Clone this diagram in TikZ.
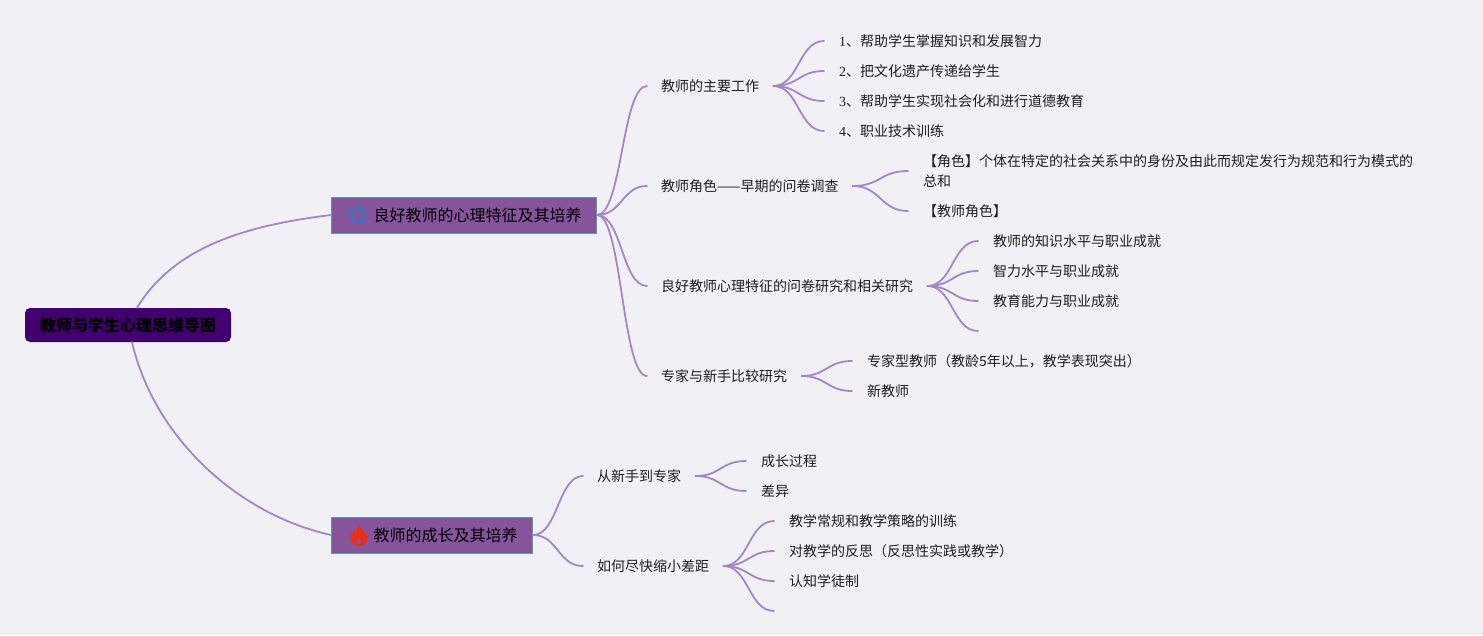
\documentclass[tikz,border=0pt]{standalone}
\usepackage{fontspec}
\setmainfont{Noto Sans CJK SC}
\newfontfamily\digitfont{Liberation Serif}
\usetikzlibrary{shapes.geometric,calc}
\definecolor{paper}{HTML}{F1F0F4}
\definecolor{branchline}{HTML}{A585C6}
\definecolor{rootfill}{HTML}{41006E}
\definecolor{subfill}{HTML}{85549B}
\definecolor{subedge}{HTML}{5F97A5}
\definecolor{starblue}{HTML}{3F72C0}
\definecolor{flamered}{HTML}{F02C12}
\definecolor{inktext}{HTML}{1E1E1E}
\newcommand{\dg}[1]{{\digitfont #1}}
\tikzset{
	branch/.style={draw=branchline, line width=1.8pt, line cap=round},
	forkcurve/.style={to path={.. controls ($(\tikztostart)!0.5!(\tikztotarget |- \tikztostart)$)
		and ($(\tikztotarget)!0.5!(\tikztostart |- \tikztotarget)$) .. (\tikztotarget)}},
	rootnode/.style={fill=rootfill, rounded corners=5pt, minimum width=206pt, minimum height=34pt,
		inner sep=0pt, font=\fontsize{16}{20}\selectfont\bfseries, text=black},
	subnode/.style={fill=subfill, draw=subedge, line width=1pt, anchor=west, minimum height=36pt,
		inner xsep=15pt, inner ysep=0pt, font=\fontsize{16}{20}\selectfont, text=black},
	topicnode/.style={anchor=west, inner xsep=14pt, inner ysep=0pt, text height=12pt, text depth=2pt,
		font=\fontsize{14}{20}\selectfont, text=inktext},
	leafnode/.style={anchor=west, inner xsep=15pt, inner ysep=0pt, text height=12pt, text depth=2pt,
		font=\fontsize{14}{20}\selectfont, text=inktext},
	wrapnode/.style={anchor=west, inner xsep=15pt, inner ysep=0pt, align=left,
		font=\fontsize{14}{20}\selectfont, text=inktext},
	starmark/.style={star, star points=5, star point ratio=2.1, draw=starblue, line width=2.4pt,
		line join=round, minimum size=20pt, inner sep=0pt},
}
\begin{document}
\begin{tikzpicture}[x=1pt, y=-1pt]
	\useasboundingbox (0,0) rectangle (1483,635);
	\fill[paper] (0,0) rectangle (1483,635);
	% main nodes
	\node[rootnode] (root) at (128,325) {教师与学生心理思维导图};
	\node[subnode] (good) at (331,215) {\hspace*{27pt}良好教师的心理特征及其培养};
	\node[subnode] (grow) at (331,535) {\hspace*{27pt}教师的成长及其培养};
	\node[starmark] (staricon) at ([xshift=27pt]good.west) {};
	\coordinate (flameicon) at ([xshift=28pt,yshift=-1pt]grow.west);
	\fill[flamered, even odd rule, shift={(flameicon)}]
		(0,10) .. controls (-5,10) and (-9,6) .. (-8.5,1)
		.. controls (-8,-2) and (-6,-3) .. (-5,-6)
		.. controls (-4,-4) and (-3.5,-3) .. (-3,-3)
		.. controls (-3,-6) and (-2,-8) .. (0,-10.5)
		.. controls (1,-6) and (8.5,-3) .. (8.5,2)
		.. controls (8.5,6) and (5,10) .. (0,10) -- cycle
		(0,8) .. controls (2.5,8) and (3,6) .. (2.2,4.5)
		.. controls (1.5,3.5) and (0.5,3) .. (0,1.5)
		.. controls (-1,3) and (-3,4) .. (-3,5.5)
		.. controls (-3,7) and (-2,8) .. (0,8) -- cycle;
	% second level
	\node[topicnode] (work) at (647,86) {教师的主要工作};
	\node[topicnode] (role) at (647,186) {教师角色——早期的问卷调查};
	\node[topicnode] (trait) at (647,286) {良好教师心理特征的问卷研究和相关研究};
	\node[topicnode] (expert) at (647,376) {专家与新手比较研究};
	\node[topicnode] (novice) at (583,476) {从新手到专家};
	\node[topicnode] (gap) at (583,566) {如何尽快缩小差距};
	% leaves
	\foreach \nm/\xx/\yy/\txt in {
		workA/824/41/{\dg{1}、帮助学生掌握知识和发展智力},
		workB/824/71/{\dg{2}、把文化遗产传递给学生},
		workC/824/101/{\dg{3}、帮助学生实现社会化和进行道德教育},
		workD/824/131/{\dg{4}、职业技术训练},
		roleB/908/211/{【教师角色】},
		traitA/978/241/{教师的知识水平与职业成就},
		traitB/978/271/{智力水平与职业成就},
		traitC/978/301/{教育能力与职业成就},
		expertA/852/361/{专家型教师（教龄5年以上，教学表现突出）},
		expertB/852/391/{新教师},
		noviceA/746/461/{成长过程},
		noviceB/746/491/{差异},
		gapA/774/521/{教学常规和教学策略的训练},
		gapB/774/551/{对教学的反思（反思性实践或教学）},
		gapC/774/581/{认知学徒制}}
		\node[leafnode] (\nm) at (\xx,\yy) {\txt};
	\node[wrapnode] (roleA) at (908,171) {【角色】个体在特定的社会关系中的身份及由此而规定发行为规范和行为模式的\\总和};
	\coordinate (traitD) at (978,331);
	\coordinate (gapD) at (774,611);
	% connectors
	\draw[branch] ([xshift=9pt]root.north) .. controls (175,245) and (250,225) .. (good.west);
	\draw[branch] ([xshift=4pt]root.south) .. controls (155,440) and (240,515) .. (grow.west);
	\foreach \from/\tolist in {
		good/{work,role,trait,expert},
		grow/{novice,gap},
		work/{workA,workB,workC,workD},
		role/{roleA,roleB},
		trait/{traitA,traitB,traitC},
		expert/{expertA,expertB},
		novice/{noviceA,noviceB},
		gap/{gapA,gapB,gapC}}
		\foreach \to in \tolist
			\draw[branch] (\from.east) to[forkcurve] (\to.west);
	\draw[branch] (trait.east) to[forkcurve] (traitD);
	\draw[branch] (gap.east) to[forkcurve] (gapD);
\end{tikzpicture}
\end{document}
